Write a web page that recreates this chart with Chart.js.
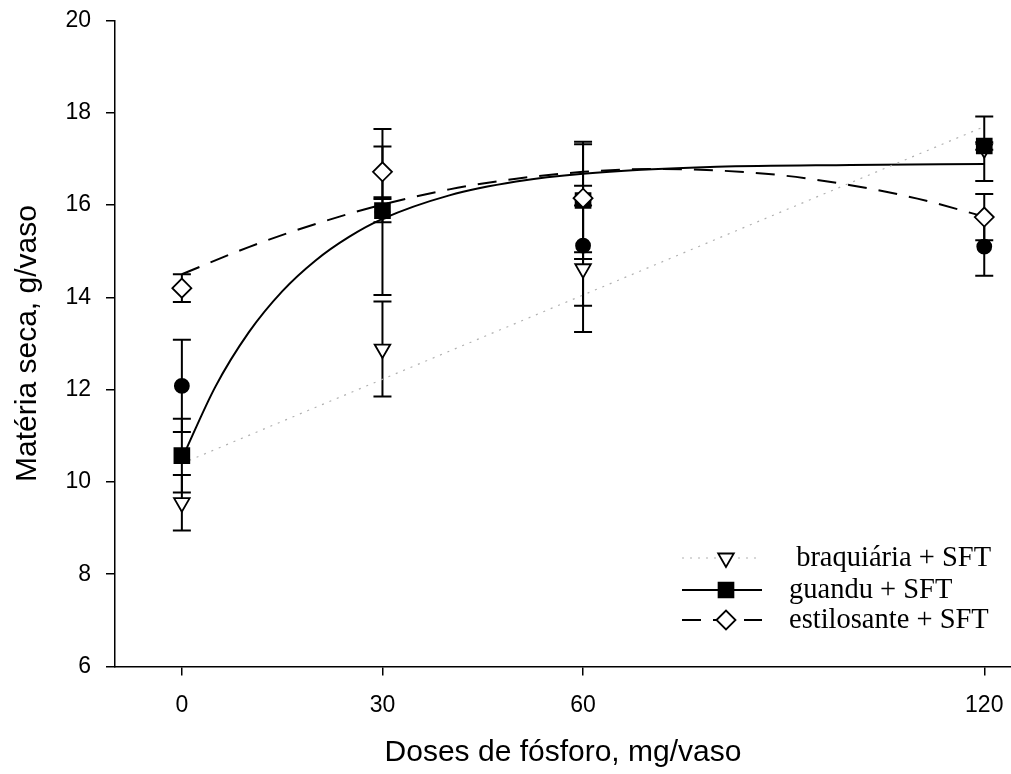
<!DOCTYPE html>
<html>
<head>
<meta charset="utf-8">
<script src="https://cdn.jsdelivr.net/npm/chart.js@4.4.0/dist/chart.umd.min.js"></script>
<style>
  html, body { margin: 0; padding: 0; background: #fff; }
  #wrap { width: 1011px; height: 774px; }
</style>
</head>
<body>
<div id="wrap"><canvas id="grafico" width="1011" height="774"></canvas></div>
<script>
// doses de P (mg/vaso) e eixos
const doses = [0, 30, 60, 120];
const xTicks = [0, 30, 60, 120];
const yTicks = [6, 8, 10, 12, 14, 16, 18, 20];

// médias e erro padrão
const braquiaria = [9.55, 12.88, 14.62, 17.22];
const braquiariaErr = [0.6, 1.03, 1.37, 0.7];
const guandu = [10.57, 15.88, 16.1, 17.28];
const guanduErr = [0.8, 0.25, 1.27, 0.08];
const estilosante = [14.2, 16.72, 16.15, 15.74];
const estilosanteErr = [0.3, 0.55, 1.17, 0.5];
const testemunha = [12.08, 15.85, 15.12, 15.1];
const testemunhaErr = [1.0, 1.8, 1.3, 0.63];

// curvas ajustadas
const braquiariaAjusteX = [0, 120];
const braquiariaAjusteY = [10.4, 17.7];
const guanduAjusteX = [0, 5, 10, 15, 20, 25, 30, 40, 50, 60, 80, 100, 120];
const guanduAjusteY = [10.5, 12.06, 13.24, 14.13, 14.8, 15.31, 15.7, 16.21, 16.51, 16.68, 16.83, 16.87, 16.89];
const estilosanteAjusteX = [0, 10, 20, 30, 40, 50, 60, 70, 80, 90, 100, 110, 120];
const estilosanteAjusteY = [14.5, 15.09, 15.59, 16.01, 16.34, 16.57, 16.72, 16.78, 16.75, 16.64, 16.43, 16.14, 15.75];

const legendLabels = [' braquiária + SFT', 'guandu + SFT', 'estilosante + SFT'];

function pts(xs, ys) {
    return xs.map((x, i) => ({ x: x, y: ys[i] }));
}

Chart.defaults.font.family = '"Liberation Sans", Arial, sans-serif';
Chart.defaults.color = '#000';

const estilos = {
    braquiaria: { dash: [2, 6], color: '#b0b0b0', width: 1.2, pointStyle: 'triangle', rotation: 180, radius: 9, fill: '#fff' },
    guandu: { dash: [], color: '#000', width: 2, pointStyle: 'rect', rotation: 0, radius: 10.5, fill: '#000' },
    estilosante: { dash: [19, 12], color: '#000', width: 2, pointStyle: 'rectRot', rotation: 0, radius: 9.5, fill: '#fff' }
};

function curva(xs, ys, e) {
    return {
        data: pts(xs, ys),
        showLine: true,
        borderColor: e.color,
        borderWidth: e.width,
        borderDash: e.dash,
        pointRadius: 0,
        cubicInterpolationMode: 'monotone',
        order: 10
    };
}

function marcadores(ys, errs, style, rotation, radius, fill, order) {
    return {
        data: pts(doses, ys),
        errorBars: errs,
        showLine: false,
        pointStyle: style,
        rotation: rotation,
        pointRadius: radius,
        pointBackgroundColor: fill,
        pointBorderColor: '#000',
        pointBorderWidth: 1.8,
        order: order
    };
}

// eixo x ocupa até a borda direita do canvas
const eixoAteBorda = {
    id: 'eixoAteBorda',
    afterLayout(chart) {
        const x = chart.scales.x;
        x.right = chart.width;
        x.width = x.right - x.left;
        chart.chartArea.right = x.right;
        chart.chartArea.width = x.right - chart.chartArea.left;
        x.configure();
    }
};

// barras de erro verticais com traço horizontal
const errorBarPlugin = {
    id: 'errorBars',
    beforeDatasetsDraw(chart) {
        const ctx = chart.ctx;
        const xs = chart.scales.x, ys = chart.scales.y;
        ctx.save();
        ctx.strokeStyle = '#000';
        ctx.lineWidth = 2;
        chart.data.datasets.forEach(ds => {
            if (!ds.errorBars) return;
            ds.data.forEach((p, i) => {
                const e = ds.errorBars[i];
                const px = xs.getPixelForValue(p.x);
                const top = ys.getPixelForValue(p.y + e);
                const bot = ys.getPixelForValue(p.y - e);
                ctx.beginPath();
                ctx.moveTo(px, top); ctx.lineTo(px, bot);
                ctx.moveTo(px - 9, top); ctx.lineTo(px + 9, top);
                ctx.moveTo(px - 9, bot); ctx.lineTo(px + 9, bot);
                ctx.stroke();
            });
        });
        ctx.restore();
    }
};

// legenda no canto inferior direito
const legendPlugin = {
    id: 'legendaSFT',
    afterDraw(chart) {
        const ctx = chart.ctx;
        const keys = ['braquiaria', 'guandu', 'estilosante'];
        const rows = [558, 590, 620];
        ctx.save();
        keys.forEach((k, i) => {
            const e = estilos[k];
            const y = rows[i];
            ctx.strokeStyle = e.color;
            ctx.lineWidth = e.width;
            ctx.setLineDash(e.dash);
            ctx.beginPath();
            ctx.moveTo(682, y); ctx.lineTo(762, y);
            ctx.stroke();
            ctx.setLineDash([]);
            ctx.fillStyle = e.fill;
            ctx.strokeStyle = '#000';
            ctx.lineWidth = 1.8;
            Chart.helpers.drawPoint(ctx, { pointStyle: e.pointStyle, rotation: e.rotation, radius: e.radius, borderWidth: 1.8 }, 726, y);
            ctx.fillStyle = '#000';
            ctx.font = '28.5px "Liberation Serif", "Times New Roman", serif';
            ctx.textBaseline = 'alphabetic';
            ctx.textAlign = 'left';
            ctx.fillText(legendLabels[i], 789, y + 8);
        });
        ctx.restore();
    }
};

new Chart(document.getElementById('grafico').getContext('2d'), {
    type: 'scatter',
    data: {
        datasets: [
            curva(braquiariaAjusteX, braquiariaAjusteY, estilos.braquiaria),
            curva(guanduAjusteX, guanduAjusteY, estilos.guandu),
            curva(estilosanteAjusteX, estilosanteAjusteY, estilos.estilosante),
            marcadores(testemunha, testemunhaErr, 'circle', 0, 7, '#000', 4),
            marcadores(braquiaria, braquiariaErr, 'triangle', 180, 9, '#fff', 3),
            marcadores(guandu, guanduErr, 'rect', 0, 10.5, '#000', 2),
            marcadores(estilosante, estilosanteErr, 'rectRot', 0, 9.5, '#fff', 1)
        ]
    },
    options: {
        responsive: false,
        animation: false,
        devicePixelRatio: 1,
        layout: { padding: { top: 20.5, right: 0, left: 0, bottom: 0 } },
        plugins: {
            legend: { display: false },
            tooltip: { enabled: false }
        },
        scales: {
            x: {
                type: 'linear',
                min: -10,
                max: 124,
                afterBuildTicks: axis => {
                    axis.ticks = xTicks.map(v => ({ value: v }));
                    axis.min = -10;
                    axis.max = 124;
                },
                afterFit: axis => {
                    axis.height = 107.5;
                    axis.paddingLeft = 0;
                    axis.paddingRight = 0;
                },
                grid: { drawOnChartArea: false, drawTicks: true, tickLength: 9, color: '#000', lineWidth: 1.5 },
                border: { display: true, color: '#000', width: 1.5 },
                ticks: { font: { size: 23 }, padding: 16, maxRotation: 0 },
                title: { display: true, text: 'Doses de fósforo, mg/vaso', font: { size: 30 }, padding: { top: 0, bottom: 3 } }
            },
            y: {
                min: 6,
                max: 20,
                afterBuildTicks: axis => {
                    axis.ticks = yTicks.map(v => ({ value: v }));
                    axis.min = 6;
                    axis.max = 20;
                },
                afterFit: axis => {
                    axis.width = 115;
                    axis.paddingTop = 0;
                    axis.paddingBottom = 0;
                },
                grid: { drawOnChartArea: false, drawTicks: true, tickLength: 9, color: '#000', lineWidth: 1.5 },
                border: { display: true, color: '#000', width: 1.5 },
                ticks: { font: { size: 23 }, padding: 15 },
                title: { display: true, text: 'Matéria seca, g/vaso', font: { size: 30 }, padding: { top: 10, bottom: 0 } }
            }
        }
    },
    plugins: [eixoAteBorda, errorBarPlugin, legendPlugin]
});
</script>
</body>
</html>
